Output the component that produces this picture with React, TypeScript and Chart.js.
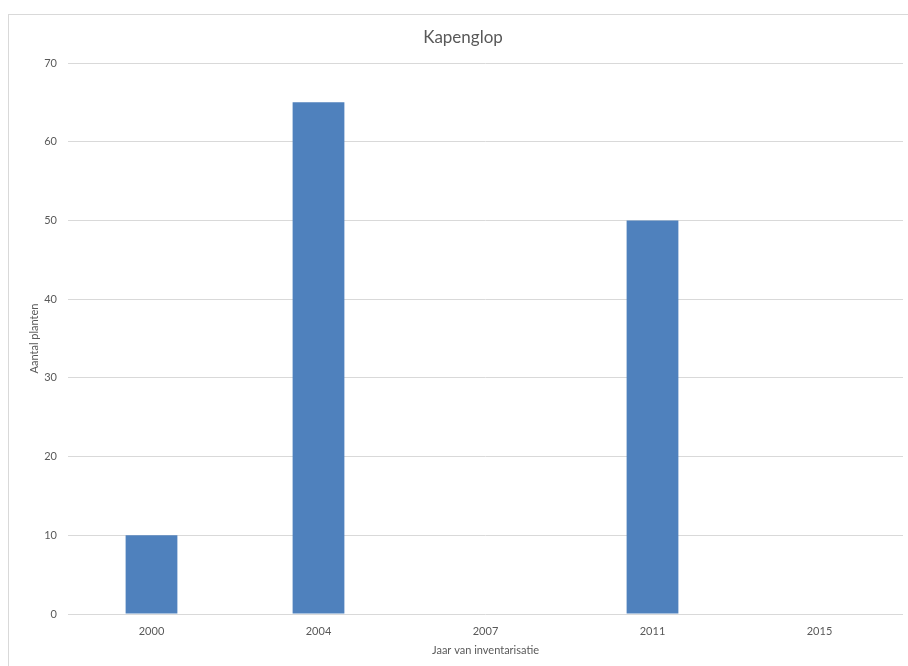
import React, { useEffect, useRef } from "react";
import { Chart, registerables } from "chart.js";

Chart.register(...registerables);

const years = ["2000", "2004", "2007", "2011", "2015"];
const plantCounts = [10, 65, 0, 50, 0];
const chartTitle = "Kapenglop";
const xTitle = "Jaar van inventarisatie";
const yTitle = "Aantal planten";

const FONT = "Lato, 'Open Sans', sans-serif";
const TEXT = "#595959";
const GRID = "#d9d9d9";
const BAR = "#4f81bd";

export default function App() {
  const canvasRef = useRef<HTMLCanvasElement | null>(null);

  useEffect(() => {
    if (!canvasRef.current) return;
    const chart = new Chart(canvasRef.current, {
      type: "bar",
      data: {
        labels: years,
        datasets: [
          {
            data: plantCounts,
            backgroundColor: BAR,
            borderWidth: 0,
            barPercentage: 0.31,
            categoryPercentage: 1,
          },
        ],
      },
      options: {
        responsive: false,
        animation: false,
        layout: { padding: 0 },
        plugins: {
          legend: { display: false },
          tooltip: { enabled: false },
          title: {
            display: true,
            text: chartTitle,
            color: TEXT,
            font: { family: FONT, size: 17, weight: "normal" },
            padding: { top: 12, bottom: 15.6 },
          },
        },
        scales: {
          x: {
            grid: { display: false },
            border: { display: false },
            ticks: {
              color: TEXT,
              font: { family: FONT, size: 11 },
              padding: 3,
              maxRotation: 0,
            },
            title: {
              display: true,
              text: xTitle,
              color: TEXT,
              font: { family: FONT, size: 11 },
              padding: { top: 0, bottom: 18 },
            },
            afterFit: (scale: any) => {
              scale.height = 61;
            },
          },
          y: {
            min: 0,
            max: 70,
            grid: { color: GRID, drawTicks: false },
            border: { display: false },
            ticks: {
              stepSize: 10,
              color: TEXT,
              font: { family: FONT, size: 11 },
              padding: 11,
            },
            title: {
              display: true,
              text: yTitle,
              color: TEXT,
              font: { family: FONT, size: 11 },
              padding: { top: 19, bottom: 0 },
            },
            afterFit: (scale: any) => {
              scale.width = 59;
            },
          },
          // empty right-hand margin strip inside the chart frame
          margin: {
            position: "right",
            grid: { display: false },
            border: { display: false },
            ticks: { display: false },
            afterFit: (scale: any) => {
              scale.width = 14;
            },
          },
        },
      },
    });
    return () => chart.destroy();
  }, []);

  return (
    <div
      style={{
        position: "fixed",
        left: 8,
        top: 14,
        width: 900,
        height: 652,
        overflow: "hidden",
      }}
    >
      <div
        style={{
          width: 908,
          height: 660,
          borderLeft: `1px solid ${GRID}`,
          borderTop: `1px solid ${GRID}`,
          background: "#fff",
        }}
      >
        <canvas ref={canvasRef} width={908} height={660} style={{ display: "block" }} />
      </div>
    </div>
  );
}
